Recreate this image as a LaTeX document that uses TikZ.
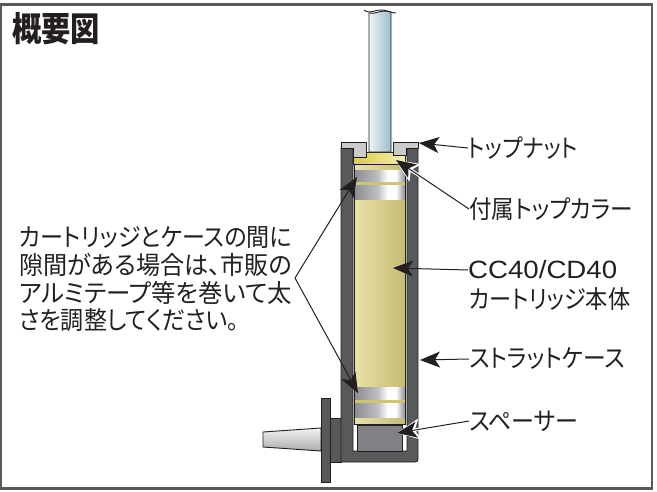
\documentclass[tikz,border=0pt]{standalone}
\usepackage{fontspec}
\usepackage{graphicx}
\setmainfont{Noto Sans CJK JP}[RawFeature=+palt]
\newfontfamily\titlef{Noto Sans CJK JP Black}
\newfontfamily\latinf{Liberation Sans}
\usetikzlibrary{arrows.meta}
\definecolor{ink}{HTML}{231F20}
\definecolor{casegray}{HTML}{58595B}
\definecolor{spacergray}{HTML}{808285}
\definecolor{capgray}{HTML}{C9CBCD}
\definecolor{silverd}{HTML}{8A8C8F}
\definecolor{silverm}{HTML}{BDBEC0}
\definecolor{bodyl}{HTML}{E9E3A8}
\definecolor{bodyr}{HTML}{C6BA74}
\definecolor{bodys}{HTML}{CFC374}
\definecolor{collarl}{HTML}{DCCB45}
\definecolor{collarr}{HTML}{F4F0B4}
\definecolor{shaftl}{HTML}{EEF4F6}
\definecolor{shaftr}{HTML}{9ABBCB}
\pgfdeclarehorizontalshading{silvershade}{100bp}{
 color(0bp)=(silverd); color(25bp)=(silverd); color(48bp)=(silverm); color(58bp)=(white); color(66bp)=(white); color(75bp)=(silverd); color(100bp)=(silverd)}
\tikzset{
 x=1pt,y=-1pt,
 part/.style={draw=ink,line width=0.9pt},
 casepart/.style={part,fill=casegray},
 capart/.style={part,fill=capgray},
 silver/.style={shading=silvershade,shading angle=0},
 body/.style={left color=bodyl,right color=bodyr},
 lab/.style={inner sep=0pt,anchor=west,text=ink,font=\fontsize{25pt}{28pt}\selectfont},
 note/.style={inner sep=0pt,anchor=west,text=ink,font=\fontsize{25pt}{28pt}\selectfont},
 pointer/.style={draw=ink,line width=1pt,-{Stealth[length=20pt,width=16pt,inset=5pt]}},
 halo/.style={draw=white,line width=3.2pt,-{Stealth[length=23pt,width=21pt,inset=5pt,color=white]}}
}
\newcommand\fitw[2]{\resizebox{#1pt}{\height}{#2}}
\begin{document}
\begin{tikzpicture}
\useasboundingbox (0,0) rectangle (657,491);
% frame
\draw[line width=2.6pt,draw=casegray] (1,4.5) rectangle (652,488.5);
% cone, flange, mount
\draw[part,top color=gray!10,bottom color=gray!65] (263,432) -- (321,428) -- (321,451) -- (263,447) -- cycle;
\draw[casepart] (330,418) rectangle (341,462);
\draw[casepart] (321,398) rectangle (330,482);
% case
\draw[casepart] (341,148) -- (353,148) -- (353,451) -- (407,451) -- (407,148) -- (418,148) -- (418,459) .. controls (418,461) and (417,462) .. (415,462) -- (341,462) -- cycle;
% spacer
\draw[part,fill=spacergray] (357,425) rectangle (402,451);
% cartridge
\fill[body] (354,164) rectangle (405,424);
\fill[silver] (354,170) rectangle (405,199);
\fill[bodys] (354,182) rectangle (405,184.5);
\fill[silver] (354,387) rectangle (405,417);
\fill[bodys] (354,400) rectangle (405,402.5);
\draw[part] (354,164) -- (354,424) -- (405,424) -- (405,164);
\draw[part,left color=collarl,right color=collarr] (353.5,152) rectangle (405.5,164);
% shaft
\draw[part,left color=shaftl,right color=shaftr] (369,152) -- (369,13) .. controls (375,15) and (380,9) .. (391,12) -- (391,152) -- cycle;
\draw[part] (364,10) .. controls (370,15) and (376,9) .. (382,10) .. controls (387,10) and (391,13) .. (396,13);
% top nut
\draw[capart] (341,142) -- (366,142) -- (366,157) -- (353,157) -- (353,148) -- (341,148) -- cycle;
\draw[capart] (393,142) -- (418,142) -- (418,148) -- (406,148) -- (406,155) -- (393,155) -- cycle;
% title
\node[inner sep=0pt,anchor=west,text=ink,font=\titlef\fontsize{34pt}{36pt}\selectfont] (title) at (12,29) {\fitw{88}{概要図}};
% note
\node[note] (n1) at (19,238) {\fitw{273}{カートリッジとケースの間に}};
\node[note] (n2) at (19,265) {\fitw{273}{隙間がある場合は、市販の}};
\node[note] (n3) at (19,293) {\fitw{273}{アルミテープ等を巻いて太}};
\node[note] (n4) at (19,320) {\fitw{220}{さを調整してください。}};
% labels
\node[lab] (nut) at (468,148) {\fitw{110}{トップナット}};
\node[lab] (collar) at (469,209) {\fitw{164}{付属トップカラー}};
\node[lab] (cc) at (468,270) {\fitw{149}{\latinf CC40/CD40}};
\node[lab] (ccb) at (469,299) {\fitw{161}{カートリッジ本体}};
\node[lab] (strut) at (469,359) {\fitw{156}{ストラットケース}};
\node[lab] (spc) at (469,421) {\fitw{109}{スペーサー}};
% tips
\coordinate (apex) at (295,278);
\coordinate (tipA) at (357,177);
\coordinate (tipB) at (358,393);
\coordinate (tipNut) at (419,143);
\coordinate (tipCol) at (396,160);
\coordinate (tipCC) at (393,268);
\coordinate (tipStr) at (420,360);
\coordinate (tipSpc) at (397,433);
% arrows
\draw[halo] (collar.west) -- (tipCol);
\draw[halo] (spc.west) -- (tipSpc);
\draw[pointer] (nut.west) -- (tipNut);
\draw[pointer] (collar.west) -- (tipCol);
\draw[pointer] (cc.west) -- (tipCC);
\draw[pointer] (strut.west) -- (tipStr);
\draw[pointer] (spc.west) -- (tipSpc);
\draw[pointer] (apex) -- (tipA);
\draw[pointer] (apex) -- (tipB);
\end{tikzpicture}
\end{document}
